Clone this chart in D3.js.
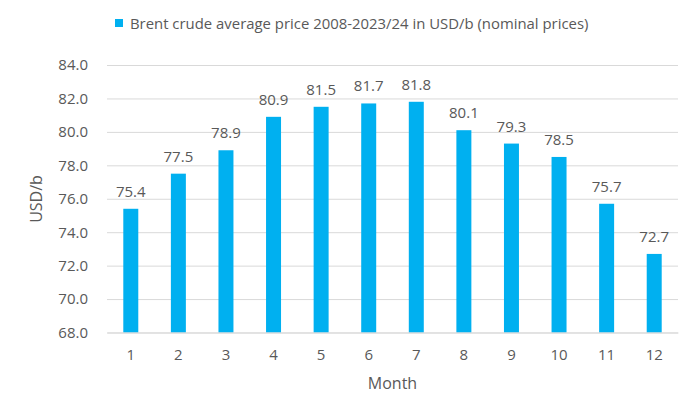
<!DOCTYPE html>
<html><head><meta charset="utf-8">
<script src="https://cdn.jsdelivr.net/npm/d3@7"></script>
<style>body{margin:0;background:#fff;} text{font-family:"Open Sans",sans-serif;fill:#595959;}</style>
</head><body>
<svg id="c" width="700" height="420"></svg>
<script>
const months = ["1","2","3","4","5","6","7","8","9","10","11","12"];
const prices = [75.4,77.5,78.9,80.9,81.5,81.7,81.8,80.1,79.3,78.5,75.7,72.7];
const yTicks = [68,70,72,74,76,78,80,82,84];
const seriesName = "Brent crude average price 2008-2023/24 in USD/b (nominal prices)";

const svg = d3.select("#c");
const m = {left:107, right:22, top:65, bottom:87.5};
const W = 700, H = 420;
const x = d3.scaleBand().domain(months).range([m.left, W-m.right]).paddingInner(0.685).paddingOuter(0.3425);
const y = d3.scaleLinear().domain([68,84]).range([H-m.bottom, m.top]);

const yAxis = svg.append("g").attr("transform",`translate(${m.left},0)`)
  .call(d3.axisLeft(y).tickValues(yTicks).tickFormat(d3.format(".1f")).tickSize(-(W-m.left-m.right)).tickPadding(19));
yAxis.select(".domain").remove();
yAxis.selectAll("line").attr("stroke","#d9d9d9").attr("stroke-width",1);
yAxis.selectAll("text").style("font-size","15px").attr("fill","#595959");

svg.append("g").selectAll("rect").data(prices).join("rect")
  .attr("x",(d,i)=>x(months[i])).attr("width",x.bandwidth())
  .attr("y",d=>y(d)).attr("height",d=>y(68)-y(d)).attr("fill","#00b0f0");

svg.append("g").selectAll("text").data(prices).join("text")
  .attr("x",(d,i)=>x(months[i])+x.bandwidth()/2).attr("y",d=>y(d)-12)
  .attr("text-anchor","middle").style("font-size","15px").text(d=>d3.format(".1f")(d));

const xAxis = svg.append("g").attr("transform",`translate(0,${y(68)})`)
  .call(d3.axisBottom(x).tickSize(0).tickPadding(17));
xAxis.select(".domain").attr("stroke","#d9d9d9");
xAxis.selectAll("text").style("font-size","15px").attr("fill","#595959");

svg.append("text").attr("x",(m.left+W-m.right)/2).attr("y",389).attr("text-anchor","middle").style("font-size","16px").text("Month");
svg.append("text").attr("transform","translate(42,199) rotate(-90)").attr("text-anchor","middle").style("font-size","16px").text("USD/b");

const lg = svg.append("g");
lg.append("rect").attr("x",115).attr("y",19).attr("width",8).attr("height",8).attr("fill","#00b0f0");
lg.append("text").attr("x",130).attr("y",29).style("font-size","14.9px").text(seriesName);
</script>
</body></html>
